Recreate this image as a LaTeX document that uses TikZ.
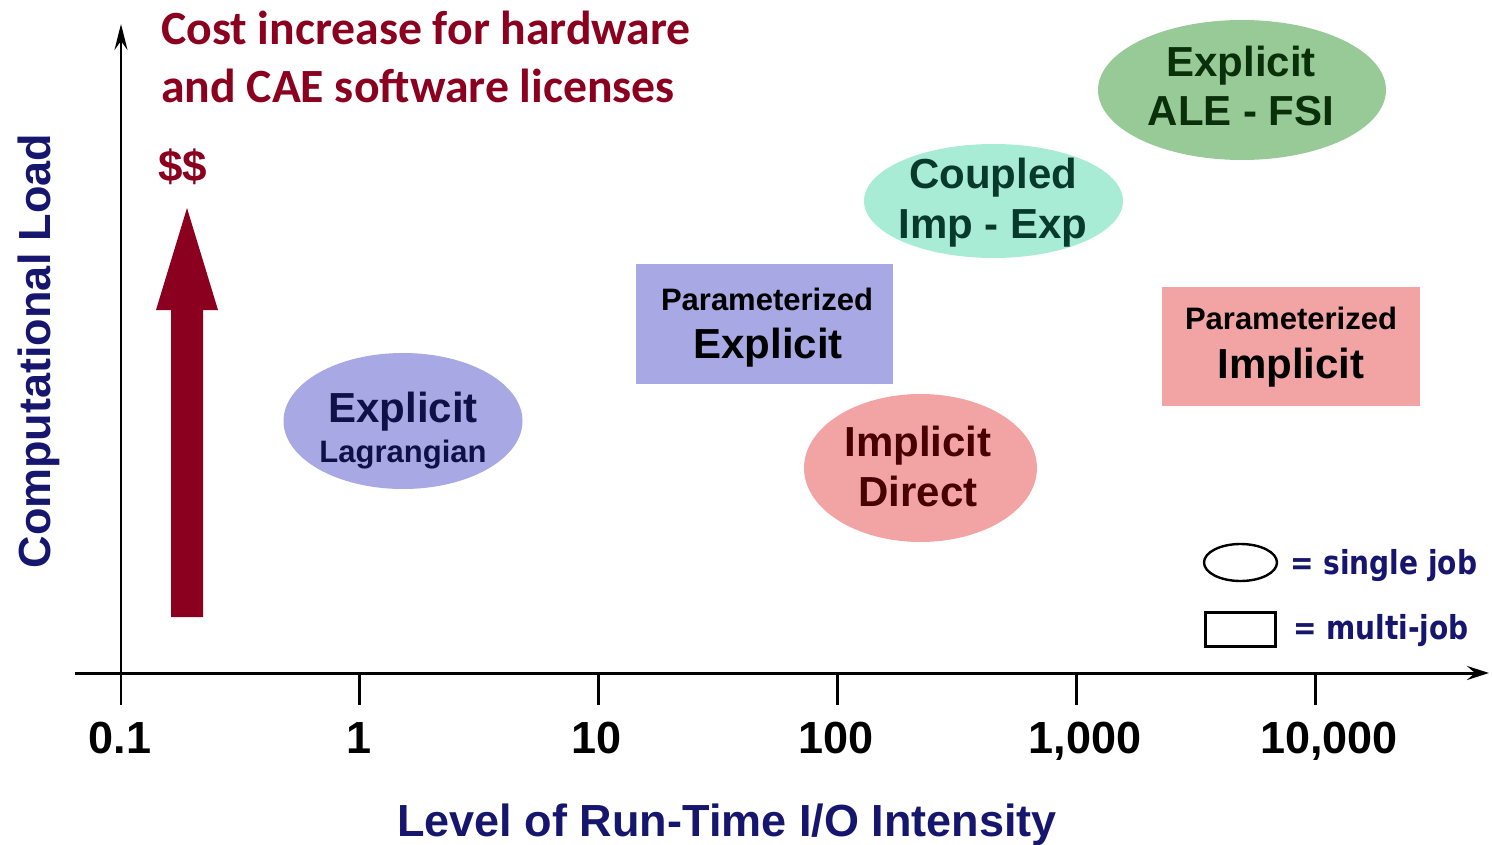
\documentclass[tikz,border=0pt]{standalone}
\usepackage{fontspec}
\setmainfont{Liberation Sans}
\newfontfamily\titlefont{Carlito}
\newfontfamily\legfont[FakeStretch=0.85]{DejaVu Sans}
\usetikzlibrary{arrows.meta,shapes.geometric}

\definecolor{navy}{RGB}{22,22,110}
\definecolor{crimson}{RGB}{139,0,30}
\definecolor{bluefill}{RGB}{168,168,228}
\definecolor{bluetext}{RGB}{16,16,72}
\definecolor{tealfill}{RGB}{168,236,214}
\definecolor{tealtext}{RGB}{8,58,44}
\definecolor{greenfill}{RGB}{152,202,152}
\definecolor{greentext}{RGB}{10,48,10}
\definecolor{redfill}{RGB}{242,164,164}
\definecolor{redtext}{RGB}{72,0,0}

\newcommand\fsz[1]{\fontsize{#1}{#1}\selectfont}

\tikzset{
  axisline/.style={line width=3pt, draw=black},
  tickmark/.style={line width=3pt, draw=black},
  blob/.style={ellipse, inner sep=0pt, draw=none},
  panel/.style={rectangle, inner sep=0pt, draw=none},
  word/.style={anchor=base, inner sep=0pt, font=\bfseries},
  ticklbl/.style={anchor=base, inner sep=0pt, font=\bfseries\fsz{45}},
  legendtxt/.style={anchor=base west, inner sep=0pt, text=navy, font=\legfont\bfseries\fsz{33}},
}

\begin{document}
\begin{tikzpicture}[x=1pt,y=-1pt]
\useasboundingbox (0,0) rectangle (1492,845);

% axes
\coordinate (org) at (121,673);
\coordinate (ybot) at (121,705);
\coordinate (ytop) at (121,24);
\coordinate (xleft) at (75,673);
\coordinate (xright) at (1489,673);
\draw[axisline, line width=2.5pt, -{Stealth[length=26pt,width=13pt,inset=9pt]}] (ybot) -- (ytop);
\draw[axisline, -{Stealth[length=22pt,width=14pt,inset=8pt]}] (xleft) -- (xright);

% decade ticks and labels
\foreach \x/\n in {359/a,598/b,837/c,1076/d,1315/e}{
  \coordinate (tk\n) at (\x,675);
  \coordinate (tb\n) at (\x,705);
  \draw[tickmark] (tk\n) -- (tb\n);
}
\node[ticklbl] (l0) at (120,753) {0.1};
\node[ticklbl] (l1) at (359,753) {1};
\node[ticklbl] (l2) at (597,753) {10};
\node[ticklbl] (l3) at (836,753) {100};
\node[ticklbl] (l4) at (1085,753) {1,000};
\node[ticklbl] (l5) at (1329,753) {10,000};

% axis titles
\node[anchor=base, inner sep=0pt, text=navy, font=\bfseries\fsz{45}] (xtitle) at (727,836) {Level of Run-Time I/O Intensity};
\node[anchor=base, inner sep=0pt, text=navy, font=\bfseries\fsz{45}, rotate=90] (ytitle) at (50,351) {Computational Load};

% cost annotation
\node[anchor=base west, inner sep=0pt, text=crimson, font=\titlefont\bfseries\fsz{47.7}] (cost1) at (161,45) {Cost increase for hardware};
\node[anchor=base west, inner sep=0pt, text=crimson, font=\titlefont\bfseries\fsz{47.7}] (cost2) at (161,103) {and CAE software licenses};
\node[anchor=base west, inner sep=0pt, text=crimson, font=\bfseries\fsz{44}] (dollars) at (158,182) {\$\$};
\fill[crimson] (171,617) -- (171,310) -- (156,310) -- (187,208) -- (218,310) -- (203,310) -- (203,617) -- cycle;

% job classes
\node[blob, fill=bluefill, minimum width=239pt, minimum height=136pt] (lag) at (403,421) {};
\node[word, text=bluetext, font=\bfseries\fsz{42}] (lagA) at (403,422) {Explicit};
\node[word, text=bluetext, font=\bfseries\fsz{31}] (lagB) at (403,462) {Lagrangian};

\node[panel, fill=bluefill, minimum width=257pt, minimum height=120pt] (pexp) at (764.5,324) {};
\node[word, text=black, font=\bfseries\fsz{31}] (pexpA) at (767,310) {Parameterized};
\node[word, text=black, font=\bfseries\fsz{42}] (pexpB) at (768,358) {Explicit};

\node[blob, fill=tealfill, minimum width=259pt, minimum height=114pt] (cpl) at (993.5,201) {};
\node[word, text=tealtext, font=\bfseries\fsz{42}] (cplA) at (993,189) {Coupled};
\node[word, text=tealtext, font=\bfseries\fsz{42}] (cplB) at (993,239) {Imp - Exp};

\node[blob, fill=greenfill, minimum width=288pt, minimum height=140pt] (ale) at (1242,90) {};
\node[word, text=greentext, font=\bfseries\fsz{42}] (aleA) at (1241,77) {Explicit};
\node[word, text=greentext, font=\bfseries\fsz{42}] (aleB) at (1241,126) {ALE - FSI};

\node[blob, fill=redfill, minimum width=233pt, minimum height=148pt] (imd) at (920.5,468) {};
\node[word, text=redtext, font=\bfseries\fsz{42}] (imdA) at (918,456) {Implicit};
\node[word, text=redtext, font=\bfseries\fsz{42}] (imdB) at (918,506) {Direct};

\node[panel, fill=redfill, minimum width=258pt, minimum height=119pt] (pimp) at (1291,346.5) {};
\node[word, text=black, font=\bfseries\fsz{31}] (pimpA) at (1291,330) {Parameterized};
\node[word, text=black, font=\bfseries\fsz{42}] (pimpB) at (1291,378) {Implicit};

% legend
\node[ellipse, draw=black, line width=2.4pt, fill=white, inner sep=0pt, minimum width=73pt, minimum height=37pt] (lgE) at (1240.5,562.5) {};
\node[rectangle, draw=black, line width=2.4pt, fill=white, inner sep=0pt, minimum width=70pt, minimum height=34pt] (lgR) at (1240.5,629.5) {};
\node[legendtxt] (lgEt) at (1290,574) {= single job};
\node[legendtxt] (lgRt) at (1293,639) {= multi-job};
\end{tikzpicture}
\end{document}
